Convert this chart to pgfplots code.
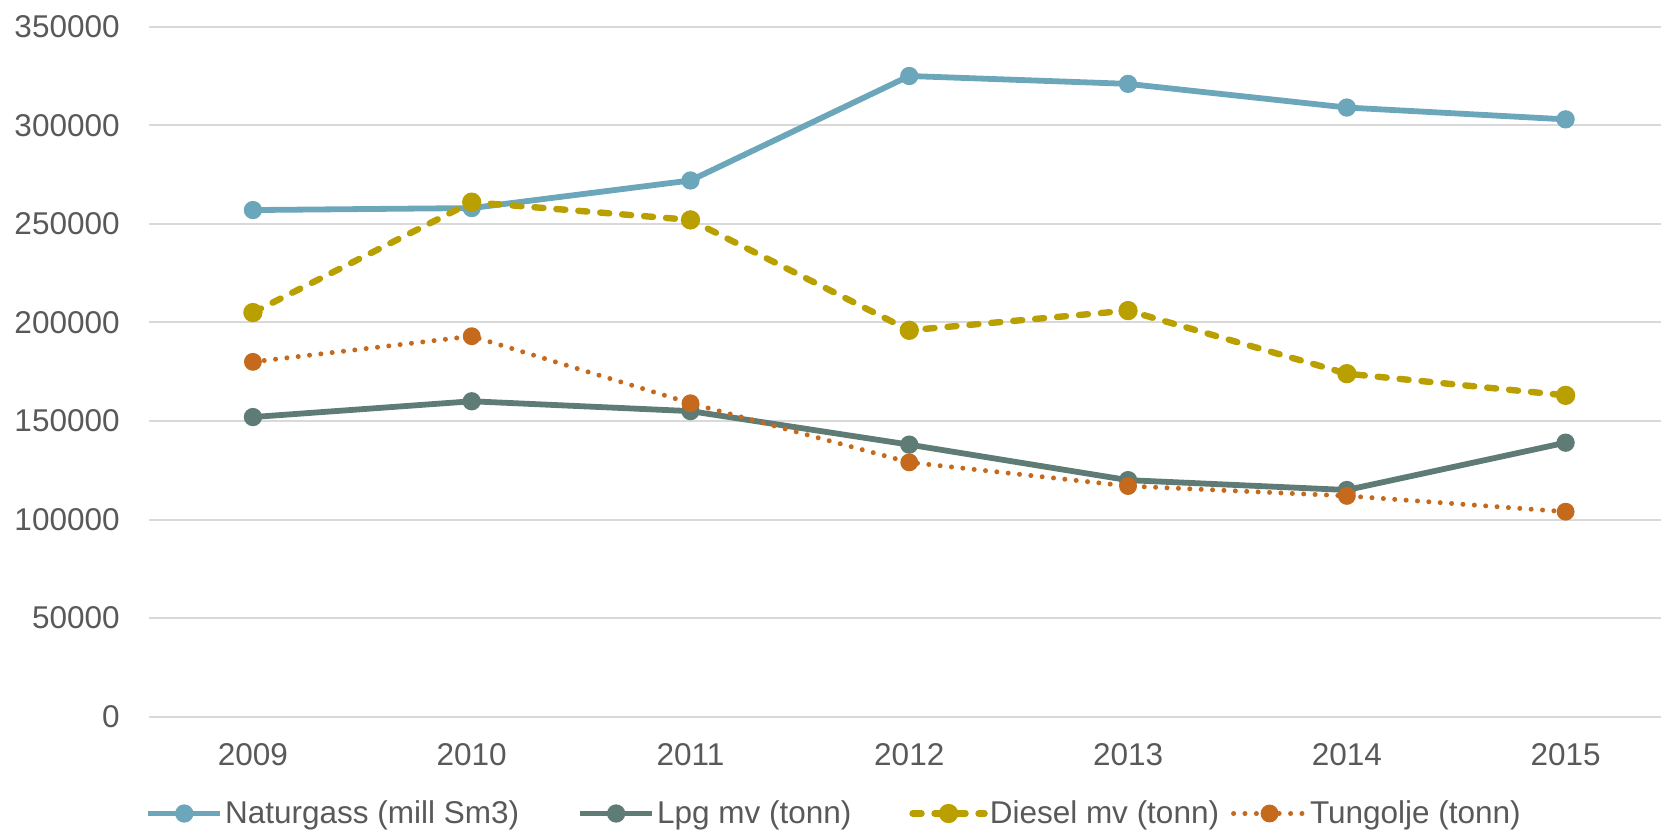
\documentclass[border=0pt]{standalone}
\usepackage{pgfplots}
\pgfplotsset{compat=1.18}
\usepackage{fontspec}
\setmainfont{Liberation Sans}

\definecolor{gasblue}{HTML}{6BA6BB}
\definecolor{lpggreen}{HTML}{5E7B75}
\definecolor{dieselol}{HTML}{B9A000}
\definecolor{oilorange}{HTML}{C5691D}
\definecolor{txtgray}{HTML}{595959}
\definecolor{gridgray}{HTML}{D9D9D9}

\begin{document}
\begin{tikzpicture}
\useasboundingbox (0,0) rectangle (830.5pt,416pt);
\begin{axis}[
  at={(74.5pt,57.65pt)}, anchor=south west,
  scale only axis, width=756pt, height=345pt,
  font=\fontsize{15.75}{18}\selectfont\color{txtgray},
  xmin=-0.475, xmax=6.436, ymin=0, ymax=350000,
  xtick={0,...,6},
  xticklabels={2009,2010,2011,2012,2013,2014,2015},
  ytick={0,50000,...,350000},
  scaled y ticks=false,
  yticklabel={\pgfmathprintnumber[fixed,precision=0,1000 sep={}]{\tick}},
  /pgf/number format/assume math mode=true,
  yticklabel style={anchor=east, inner sep=0pt, xshift=-14.5pt},
  xticklabel style={anchor=north, inner sep=0pt, yshift=-13pt},
  axis line style={draw=none},
  major tick length=0pt,
  ymajorgrids, grid style={gridgray, line width=1pt},
  clip=false,
  legend columns=4,
  legend style={at={(-0.00265,-0.1403)}, anchor=west, draw=none, fill=none,
    inner sep=0pt, column sep=0pt, nodes={inner xsep=1pt, inner ysep=0pt},
    font=\fontsize{15.75}{18}\selectfont\color{txtgray}},
  legend cell align=left,
  legend image code/.code={
    \draw[mark repeat=2,mark phase=2,#1] plot coordinates {(0pt,0pt) (18pt,0pt) (36pt,0pt)};},
]
% Naturgass
\addplot[gasblue, line width=2.9pt, mark=*, mark size=3.1pt] coordinates {
  (0,257000) (1,258000) (2,272000) (3,325000) (4,321000) (5,309000) (6,303000)};
\addlegendentry{Naturgass (mill Sm3)\rule{28pt}{0pt}}
% Lpg
\addplot[lpggreen, line width=2.9pt, mark=*, mark size=3.1pt] coordinates {
  (0,152000) (1,160000) (2,155000) (3,138000) (4,120000) (5,115000) (6,139000)};
\addlegendentry{Lpg mv (tonn)\rule{28pt}{0pt}}
% Diesel
\addplot[dieselol, line width=3.2pt, line cap=round, dash pattern=on 4.5pt off 6.5pt,
  mark=*, mark size=3.2pt, mark options={solid}] coordinates {
  (0,205000) (1,261000) (2,252000) (3,196000) (4,206000) (5,174000) (6,163000)};
\addlegendentry{Diesel mv (tonn)\rule{5pt}{0pt}}
% Tungolje
\addplot[oilorange, line width=2.5pt, line cap=round, dash pattern=on 0pt off 5.7pt,
  mark=*, mark size=3.2pt, mark options={solid}] coordinates {
  (0,180000) (1,193000) (2,159000) (3,129000) (4,117000) (5,112000) (6,104000)};
\addlegendentry{Tungolje (tonn)}
\end{axis}
\end{tikzpicture}
\end{document}
